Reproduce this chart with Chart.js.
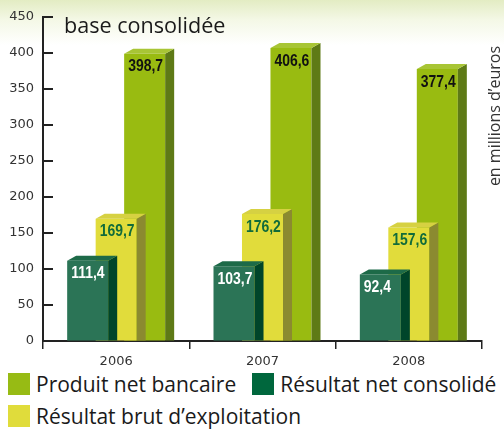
<!DOCTYPE html>
<html>
<head>
<meta charset="utf-8">
<script src="https://cdn.jsdelivr.net/npm/chart.js@4.4.1/dist/chart.umd.min.js"></script>
<style>
  html, body { margin: 0; padding: 0; }
  body {
    width: 504px; height: 430px; overflow: hidden; position: relative;
    background: linear-gradient(to bottom, #e3ecc3 0px, #f4f8e6 20px, #ffffff 45px);
    font-family: "Open Sans", sans-serif;
  }
  #wrap { position: absolute; left: 0; top: 0; width: 504px; height: 368px; }
  #legend { position: absolute; left: 8px; top: 368px; width: 560px; }
  .row { height: 32px; white-space: nowrap; }
  .item { display: inline-flex; align-items: center; margin-right: 16px; height: 32px;
          font-size: 21px; color: #1a1a1a; vertical-align: top; }
  .box { width: 22px; height: 22px; margin-right: 6px; }
</style>
</head>
<body>
<div id="wrap"><canvas id="chart"></canvas></div>
<div id="legend"></div>
<script>
// données (millions d'euros)
const years = ['2006', '2007', '2008'];
const netConsolide = [111.4, 103.7, 92.4];
const brutExploitation = [169.7, 176.2, 157.6];
const produitNetBancaire = [398.7, 406.6, 377.4];
const yTicksMin = 0;
const yTicksMax = 450;
const yTicksStep = 50;
// légende : deux lignes
const legendRows = [
    ['Produit net bancaire', 'Résultat net consolidé'],
    ['Résultat brut d\u2019exploitation']
];

const depthX = 9, depthY = 5;

function fmt(v) {
    return v.toFixed(1).replace('.', ',');
}

// dessine les faces latérales / supérieures de chaque barre (effet 3D)
const bars3d = {
    id: 'bars3d',
    afterDatasetDraw(chart, args) {
        const ctx = chart.ctx;
        const ds = chart.data.datasets[args.index];
        args.meta.data.forEach((bar, i) => {
            const p = bar.getProps(['x', 'y', 'base', 'width'], true);
            const l = p.x - p.width / 2, r = p.x + p.width / 2;
            ctx.save();
            // côté
            ctx.fillStyle = ds.sideColor;
            ctx.beginPath();
            ctx.moveTo(r, p.y);
            ctx.lineTo(r + depthX, p.y - depthY);
            ctx.lineTo(r + depthX, p.base);
            ctx.lineTo(r, p.base);
            ctx.closePath();
            ctx.fill();
            // dessus
            ctx.fillStyle = ds.topColor;
            ctx.beginPath();
            ctx.moveTo(l, p.y);
            ctx.lineTo(l + depthX, p.y - depthY);
            ctx.lineTo(r + depthX, p.y - depthY);
            ctx.lineTo(r, p.y);
            ctx.closePath();
            ctx.fill();
            // valeur (police étroite)
            ctx.translate(l + 4, p.y + 13);
            ctx.scale(0.82, 1);
            ctx.fillStyle = ds.labelColor;
            ctx.font = 'bold 17px "Liberation Sans", Arial, sans-serif';
            ctx.textAlign = 'left';
            ctx.textBaseline = 'middle';
            ctx.fillText(fmt(ds.data[i]), 0, 0);
            ctx.restore();
        });
    }
};

// petits traits vers l'intérieur sur l'axe des y + textes
const extras = {
    id: 'extras',
    afterDraw(chart) {
        const ctx = chart.ctx;
        const ys = chart.scales.y;
        const area = chart.chartArea;
        ctx.save();
        ctx.strokeStyle = '#222';
        ctx.lineWidth = 2;
        ys.ticks.forEach(t => {
            const y = Math.round(ys.getPixelForValue(t.value));
            ctx.beginPath();
            ctx.moveTo(area.left, y);
            ctx.lineTo(area.left + 10, y);
            ctx.stroke();
        });
        ctx.fillStyle = '#1a1a1a';
        ctx.font = '21.6px "Open Sans", sans-serif';
        ctx.textAlign = 'left';
        ctx.textBaseline = 'alphabetic';
        ctx.fillText('base consolidée', 64, 33);
        ctx.translate(495, 116);
        ctx.rotate(-Math.PI / 2);
        ctx.fillStyle = '#333';
        ctx.font = '16px "Open Sans", sans-serif';
        ctx.textAlign = 'center';
        ctx.textBaseline = 'middle';
        ctx.fillText('en millions d\u2019euros', 0, 0);
        ctx.restore();
    }
};

const ctx = document.getElementById('chart').getContext('2d');
const chart = new Chart(ctx, {
    type: 'bar',
    data: {
        labels: years,
        datasets: [{
            label: 'Résultat net consolidé',
            data: netConsolide,
            backgroundColor: '#2b7456',
            sideColor: '#00452a',
            topColor: '#1d6a48',
            labelColor: '#ffffff',
            legendColor: '#00673d'
        }, {
            label: 'Résultat brut d\u2019exploitation',
            data: brutExploitation,
            backgroundColor: '#e1dc3b',
            sideColor: '#8b8a30',
            topColor: '#d6d142',
            labelColor: '#116b3a',
            legendColor: '#e0dc3b'
        }, {
            label: 'Produit net bancaire',
            data: produitNetBancaire,
            backgroundColor: '#99bb11',
            sideColor: '#5e7a16',
            topColor: '#a8c535',
            labelColor: '#111111',
            legendColor: '#97bb14'
        }]
    },
    options: {
        responsive: true,
        maintainAspectRatio: false,
        animation: false,
        categoryPercentage: 0.584,
        barPercentage: 1.44,
        borderWidth: 0,
        layout: { padding: { top: 14, right: 22, left: 0, bottom: 0 } },
        plugins: {
            legend: { display: false },
            tooltip: { enabled: false }
        },
        scales: {
            x: {
                afterFit: s => { s.height = 27; },
                grid: { drawOnChartArea: false, tickLength: 8, color: '#222', lineWidth: 1.5, offset: true },
                border: { display: true, color: '#222', width: 2 },
                ticks: { color: '#333', font: { family: 'DejaVu Sans', size: 13 }, padding: 5 }
            },
            y: {
                min: yTicksMin,
                max: yTicksMax,
                afterFit: s => { s.width = 43; },
                grid: { drawOnChartArea: false, drawTicks: false },
                border: { display: true, color: '#222', width: 2 },
                ticks: { stepSize: yTicksStep, color: '#333', font: { family: 'DejaVu Sans', size: 13 }, padding: 9 }
            }
        }
    },
    plugins: [bars3d, extras]
});

// légende
const legendEl = document.getElementById('legend');
legendRows.forEach(names => {
    const row = document.createElement('div');
    row.className = 'row';
    names.forEach(name => {
        const ds = chart.data.datasets.find(d => d.label === name);
        const item = document.createElement('span');
        item.className = 'item';
        const box = document.createElement('span');
        box.className = 'box';
        box.style.background = ds.legendColor;
        item.appendChild(box);
        item.appendChild(document.createTextNode(ds.label));
        row.appendChild(item);
    });
    legendEl.appendChild(row);
});
</script>
</body>
</html>
